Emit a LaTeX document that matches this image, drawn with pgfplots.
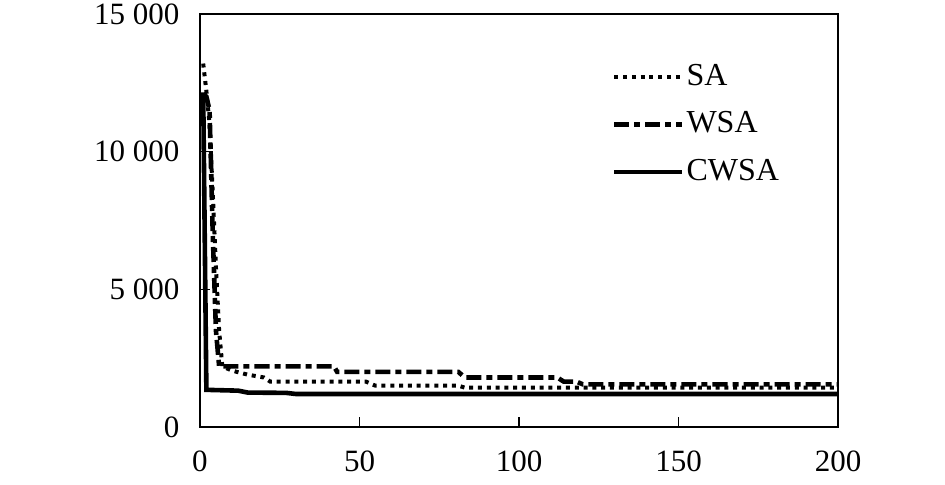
\documentclass[border=0pt]{standalone}
\usepackage{fontspec}
\setmainfont{Liberation Serif}
\usepackage{pgfplots}
\pgfplotsset{compat=1.18}
\begin{document}
\fontsize{15.5}{18}\selectfont
\begin{tikzpicture}
\begin{axis}[
  name=ax,
  scale only axis,
  width=319pt, height=206.5pt,
  xmin=0, xmax=200, ymin=0, ymax=15000,
  scaled y ticks=false, scaled x ticks=false,
  xtick={0,50,100,150,200},
  xticklabels={0,50,100,150,200},
  ytick={0,5000,10000,15000},
  yticklabels={0,5 000,10 000,15 000},
  tick align=inside,
  tick pos=left,
  major tick length=5pt,
  axis line style={line width=0.75pt},
  tick style={line width=0.6pt, black},
  xticklabel style={yshift=-6.5pt, font=\fontsize{15.5}{18}\selectfont},
  yticklabel style={xshift=-5pt, font=\fontsize{15.5}{18}\selectfont},
  legend style={at={(rel axis cs:0.645,0.887)}, anchor=north west, draw=none, fill=none,
    font=\fontsize{16}{19}\selectfont, row sep=7.75pt, inner sep=0pt,
    nodes={inner sep=1pt, text height=11pt, text depth=3pt}},
  legend cell align=left,
  legend image code/.code={\draw[#1] (0pt,0pt) -- (34pt,0pt);},
]
\addplot[black, line width=2pt, dash pattern=on 2pt off 2.4pt] coordinates {
(1,13200)(2,12200)(3,11000)(4,8500)(5,5800)(6,3500)(7,2200)(10,2050)(15,1900)(20,1800)(22,1650)(52,1650)(55,1500)(81,1500)(83,1430)(200,1430)};
\addlegendentry{SA}
\addplot[black, line width=2.3pt, dash pattern=on 7.5pt off 2.5pt on 3pt off 2.5pt] coordinates {
(1,12100)(2,12000)(3,11500)(4,7000)(5,3500)(6,2200)(42,2200)(43,2000)(81,2000)(83,1800)(112,1800)(114,1650)(118,1650)(120,1550)(200,1550)};
\addlegendentry{WSA}
\addplot[black, line width=2.3pt] coordinates {
(1,12150)(2,1350)(12,1320)(15,1250)(27,1240)(30,1200)(200,1200)};
\addlegendentry{CWSA}
\end{axis}
\pgfresetboundingbox
\path[use as bounding box] (ax.south west) ++(-100pt,-28.5pt) rectangle ++(472.5pt,242pt);
\end{tikzpicture}
\end{document}
